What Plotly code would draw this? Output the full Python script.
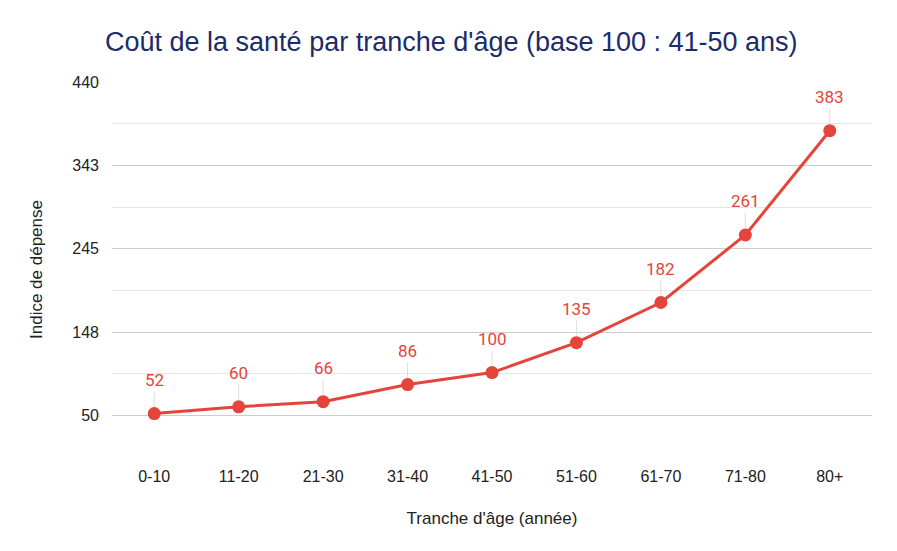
import plotly.graph_objects as go

categories = ["0-10", "11-20", "21-30", "31-40", "41-50", "51-60", "61-70", "71-80", "80+"]
values = [52, 60, 66, 86, 100, 135, 182, 261, 383]
tick_vals = [50, 147.5, 245, 342.5, 440]
tick_text = ["50", "148", "245", "343", "440"]

RED = "#e5443a"
TXT = "#222222"
FONT = "Liberation Sans, Arial, sans-serif"

fig = go.Figure()
fig.add_trace(go.Scatter(
    x=categories, y=values, mode="lines+markers",
    line=dict(color=RED, width=3),
    marker=dict(color=RED, size=13),
    hoverinfo="x+y", showlegend=False,
))

for c, v in zip(categories, values):
    fig.add_annotation(
        x=c, y=v, xref="x", yref="y", text=str(v),
        showarrow=True, arrowhead=0, arrowwidth=1, arrowcolor="#dddddd",
        ax=0, ay=-22, standoff=7, yanchor="bottom",
        font=dict(family="Roboto, Arial, sans-serif", size=17, color=RED),
    )

# page body has an 8px margin in the browser; offsets compensate for it
fig.update_layout(
    width=897, height=551,
    paper_bgcolor="white", plot_bgcolor="white",
    margin=dict(l=104, r=33, t=74, b=102, autoexpand=False),
    title=dict(
        text="Coût de la santé par tranche d'âge (base 100 : 41-50 ans)",
        x=97 / 897, xanchor="left", y=1 - 34 / 551, yanchor="middle",
        font=dict(family=FONT, size=27, color="#1b2c6b"),
    ),
    font=dict(family=FONT, size=16, color=TXT),
)

fig.update_xaxes(
    type="category", range=[-0.5, 8.5], automargin=False,
    showgrid=False, showline=False, zeroline=False,
    ticks="", tickfont=dict(family=FONT, size=16, color=TXT), ticklabelstandoff=8,
    title=dict(text="Tranche d'âge (année)", font=dict(family=FONT, size=17, color=TXT), standoff=28),
)
fig.update_yaxes(
    range=[1.25, 440], tickvals=tick_vals, ticktext=tick_text, automargin=False,
    showgrid=True, gridcolor="#cccccc", gridwidth=1,
    minor=dict(tickvals=[1.25, 98.75, 196.25, 293.75, 391.25], showgrid=True, gridcolor="#e6e6e6", gridwidth=1),
    zeroline=False, showline=False, ticks="",
    tickfont=dict(family=FONT, size=16, color=TXT), ticklabelstandoff=12,
    title=dict(text="Indice de dépense", font=dict(family=FONT, size=17, color=TXT), standoff=25),
)

fig.write_html("out.html")
